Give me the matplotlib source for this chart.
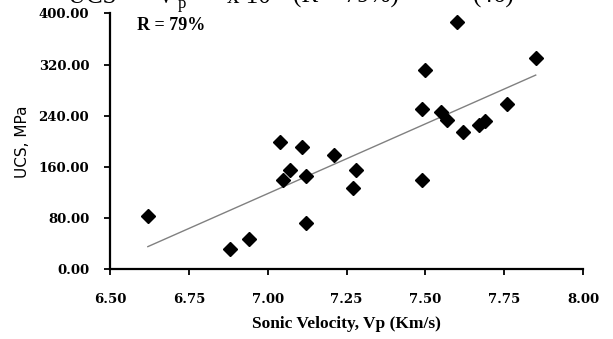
import numpy as np
import matplotlib
matplotlib.use("Agg")
import matplotlib.pyplot as plt

# Sonic velocity (km/s) vs UCS (MPa)
vp = [6.62, 6.88, 6.94, 7.04, 7.05, 7.07, 7.11, 7.12, 7.12, 7.21, 7.27, 7.28,
      7.49, 7.49, 7.50, 7.55, 7.57, 7.60, 7.62, 7.67, 7.69, 7.76, 7.85]
ucs = [83, 32, 47, 199, 140, 155, 191, 146, 72, 179, 127, 156,
       251, 140, 311, 246, 233, 387, 215, 226, 232, 258, 331]

xticks = [6.50, 6.75, 7.00, 7.25, 7.50, 7.75, 8.00]
yticks = [0, 80, 160, 240, 320, 400]
r_label = "R = 79%"

W, H = 613, 339
fig = plt.figure(figsize=(W / 100, H / 100), dpi=100)
ax = fig.add_axes([110 / W, 1 - 269.3 / H, (583 - 110) / W, (269.3 - 13.5) / H])

# linear trendline
vp_arr = np.array(vp)
coef = np.polyfit(vp_arr, np.array(ucs), 1)
xl = np.array([vp_arr.min(), vp_arr.max()])
ax.plot(xl, np.polyval(coef, xl), color="#808080", linewidth=1.0, zorder=2)

ax.plot(vp, ucs, linestyle="none", marker="D", markersize=6.8,
        color="black", zorder=3, clip_on=False)

ax.set_xlim(6.5, 8.0)
ax.set_ylim(0, 400)
ax.set_xticks(xticks)
ax.set_yticks(yticks)
ax.set_xticklabels([f"{x:.2f}" for x in xticks])
ax.set_yticklabels([f"{y:.2f}" for y in yticks])

for side in ["top", "right"]:
    ax.spines[side].set_visible(False)
for side in ["left", "bottom"]:
    ax.spines[side].set_linewidth(1.6)
    ax.spines[side].set_color("black")

ax.tick_params(axis="both", direction="out", length=4, width=1.3, color="black")
ax.tick_params(axis="x", pad=13)
ax.tick_params(axis="y", pad=11)
for lab in ax.get_xticklabels() + ax.get_yticklabels():
    lab.set_fontfamily("DejaVu Serif")
    lab.set_fontweight("bold")
    lab.set_fontsize(9.5)

ax.set_xlabel("Sonic Velocity, Vp (Km/s)", fontfamily="Liberation Serif",
              fontweight="bold", fontsize=12.5, labelpad=7)
ax.set_ylabel("UCS, MPa", fontfamily="DejaVu Sans", fontsize=11, labelpad=6)

ax.text(0.058, 0.955, r_label, transform=ax.transAxes, ha="left", va="center",
        fontfamily="Liberation Serif", fontweight="bold", fontsize=13)

# equation line from the page above, mostly cut off at the top edge
serif = dict(fontfamily="Liberation Serif", fontsize=18, va="baseline", ha="left")
base = 1 - 3 / H
fig.text(68 / W, base, "UCS =", **serif)
fig.text(157 / W, base, "V", **serif)
fig.text(178 / W, 1 - 8 / H, "p", fontfamily="Liberation Serif", fontsize=12,
         va="baseline", ha="left")
fig.text(227 / W, base, "x 10", **serif)
fig.text(293 / W, base, "(R = 79%)", **serif)
fig.text(473 / W, base, "(46)", **serif)

fig.savefig("out.png", dpi=100)
